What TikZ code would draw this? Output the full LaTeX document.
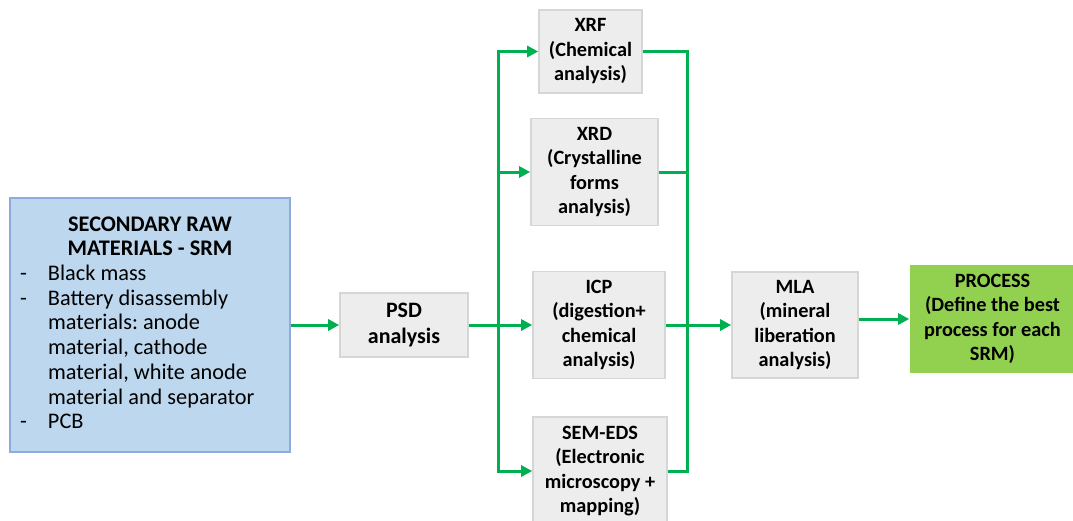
\documentclass[tikz,border=0pt]{standalone}
\usepackage{fontspec}
\setmainfont{Carlito}
\frenchspacing
\usetikzlibrary{arrows.meta}
\definecolor{flowgreen}{HTML}{00B050}
\definecolor{srmfill}{HTML}{BDD7EE}
\definecolor{srmline}{HTML}{8FAADC}
\definecolor{boxfill}{HTML}{EDEDED}
\definecolor{boxline}{HTML}{D6D6D6}
\definecolor{procfill}{HTML}{92D050}
\begin{document}
\begin{tikzpicture}[x=1pt,y=-1pt,
  box/.style={draw=boxline, fill=boxfill, line width=1.6pt, align=center, inner sep=0pt,
    font=\fontsize{20.3}{24.5}\selectfont\bfseries},
  srmbox/.style={draw=srmline, fill=srmfill, line width=1.6pt, inner ysep=0pt, inner xsep=3pt,
    font=\fontsize{22.3}{24.7}\selectfont},
  procbox/.style={box, draw=none, fill=procfill},
  link/.style={draw=flowgreen, line width=3pt},
  flow/.style={link, -{Triangle[length=11pt,width=11pt]}}]
\fill[white] (0,0) rectangle (1073,520);
\useasboundingbox (0,0) rectangle (1073,520);
% input
\node[srmbox, minimum width=280pt, minimum height=254pt] (srm) at (150,325) {%
\begin{tabular}{@{}p{35pt}@{}p{239pt}@{}}
\multicolumn{2}{@{}c@{}}{\bfseries SECONDARY RAW}\\
\multicolumn{2}{@{}c@{}}{\bfseries MATERIALS - SRM}\\
\hspace*{7pt}- & Black mass\\
\hspace*{7pt}- & Battery disassembly\\
  & materials: anode\\
  & material, cathode\\
  & material, white anode\\
  & material and separator\\
\hspace*{7pt}- & PCB
\end{tabular}};
\node[box, minimum width=128pt, minimum height=64pt, font=\fontsize{22}{26.7}\selectfont\bfseries] (psd) at (404,325) {PSD\\analysis};
% characterisation
\node[box, minimum width=103pt, minimum height=83pt] (xrf) at (590.5,51.5) {XRF\\(Chemical\\analysis)};
\node[box, minimum width=127pt, minimum height=107pt] (xrd) at (594.5,172) {XRD\\(Crystalline\\forms\\analysis)};
\node[box, minimum width=132pt, minimum height=107pt] (icp) at (599,325) {ICP\\(digestion+\\chemical\\analysis)};
\node[box, minimum width=134pt, minimum height=108pt] (sem) at (600,471) {SEM-EDS\\(Electronic\\microscopy +\\mapping)};
\node[box, minimum width=126pt, minimum height=106pt] (mla) at (795,325) {MLA\\(mineral\\liberation\\analysis)};
\node[procbox, minimum width=165pt, minimum height=108pt] (proc) at (992.5,319) {PROCESS\\(Define the best\\process for each\\SRM)};
\coordinate (split) at (498,325);
\coordinate (merge) at (687,325);
% connectors
\draw[flow] (srm) -- (psd);
\foreach \n in {xrf,xrd,icp,sem}
  \draw[flow] (psd) -- (split) |- (\n);
\foreach \n in {xrf,xrd,icp,sem}
  \draw[link] (\n) -| (merge);
\draw[flow] (merge) -- (mla);
\draw[flow] (mla.east |- proc) -- (proc);
\end{tikzpicture}
\end{document}
